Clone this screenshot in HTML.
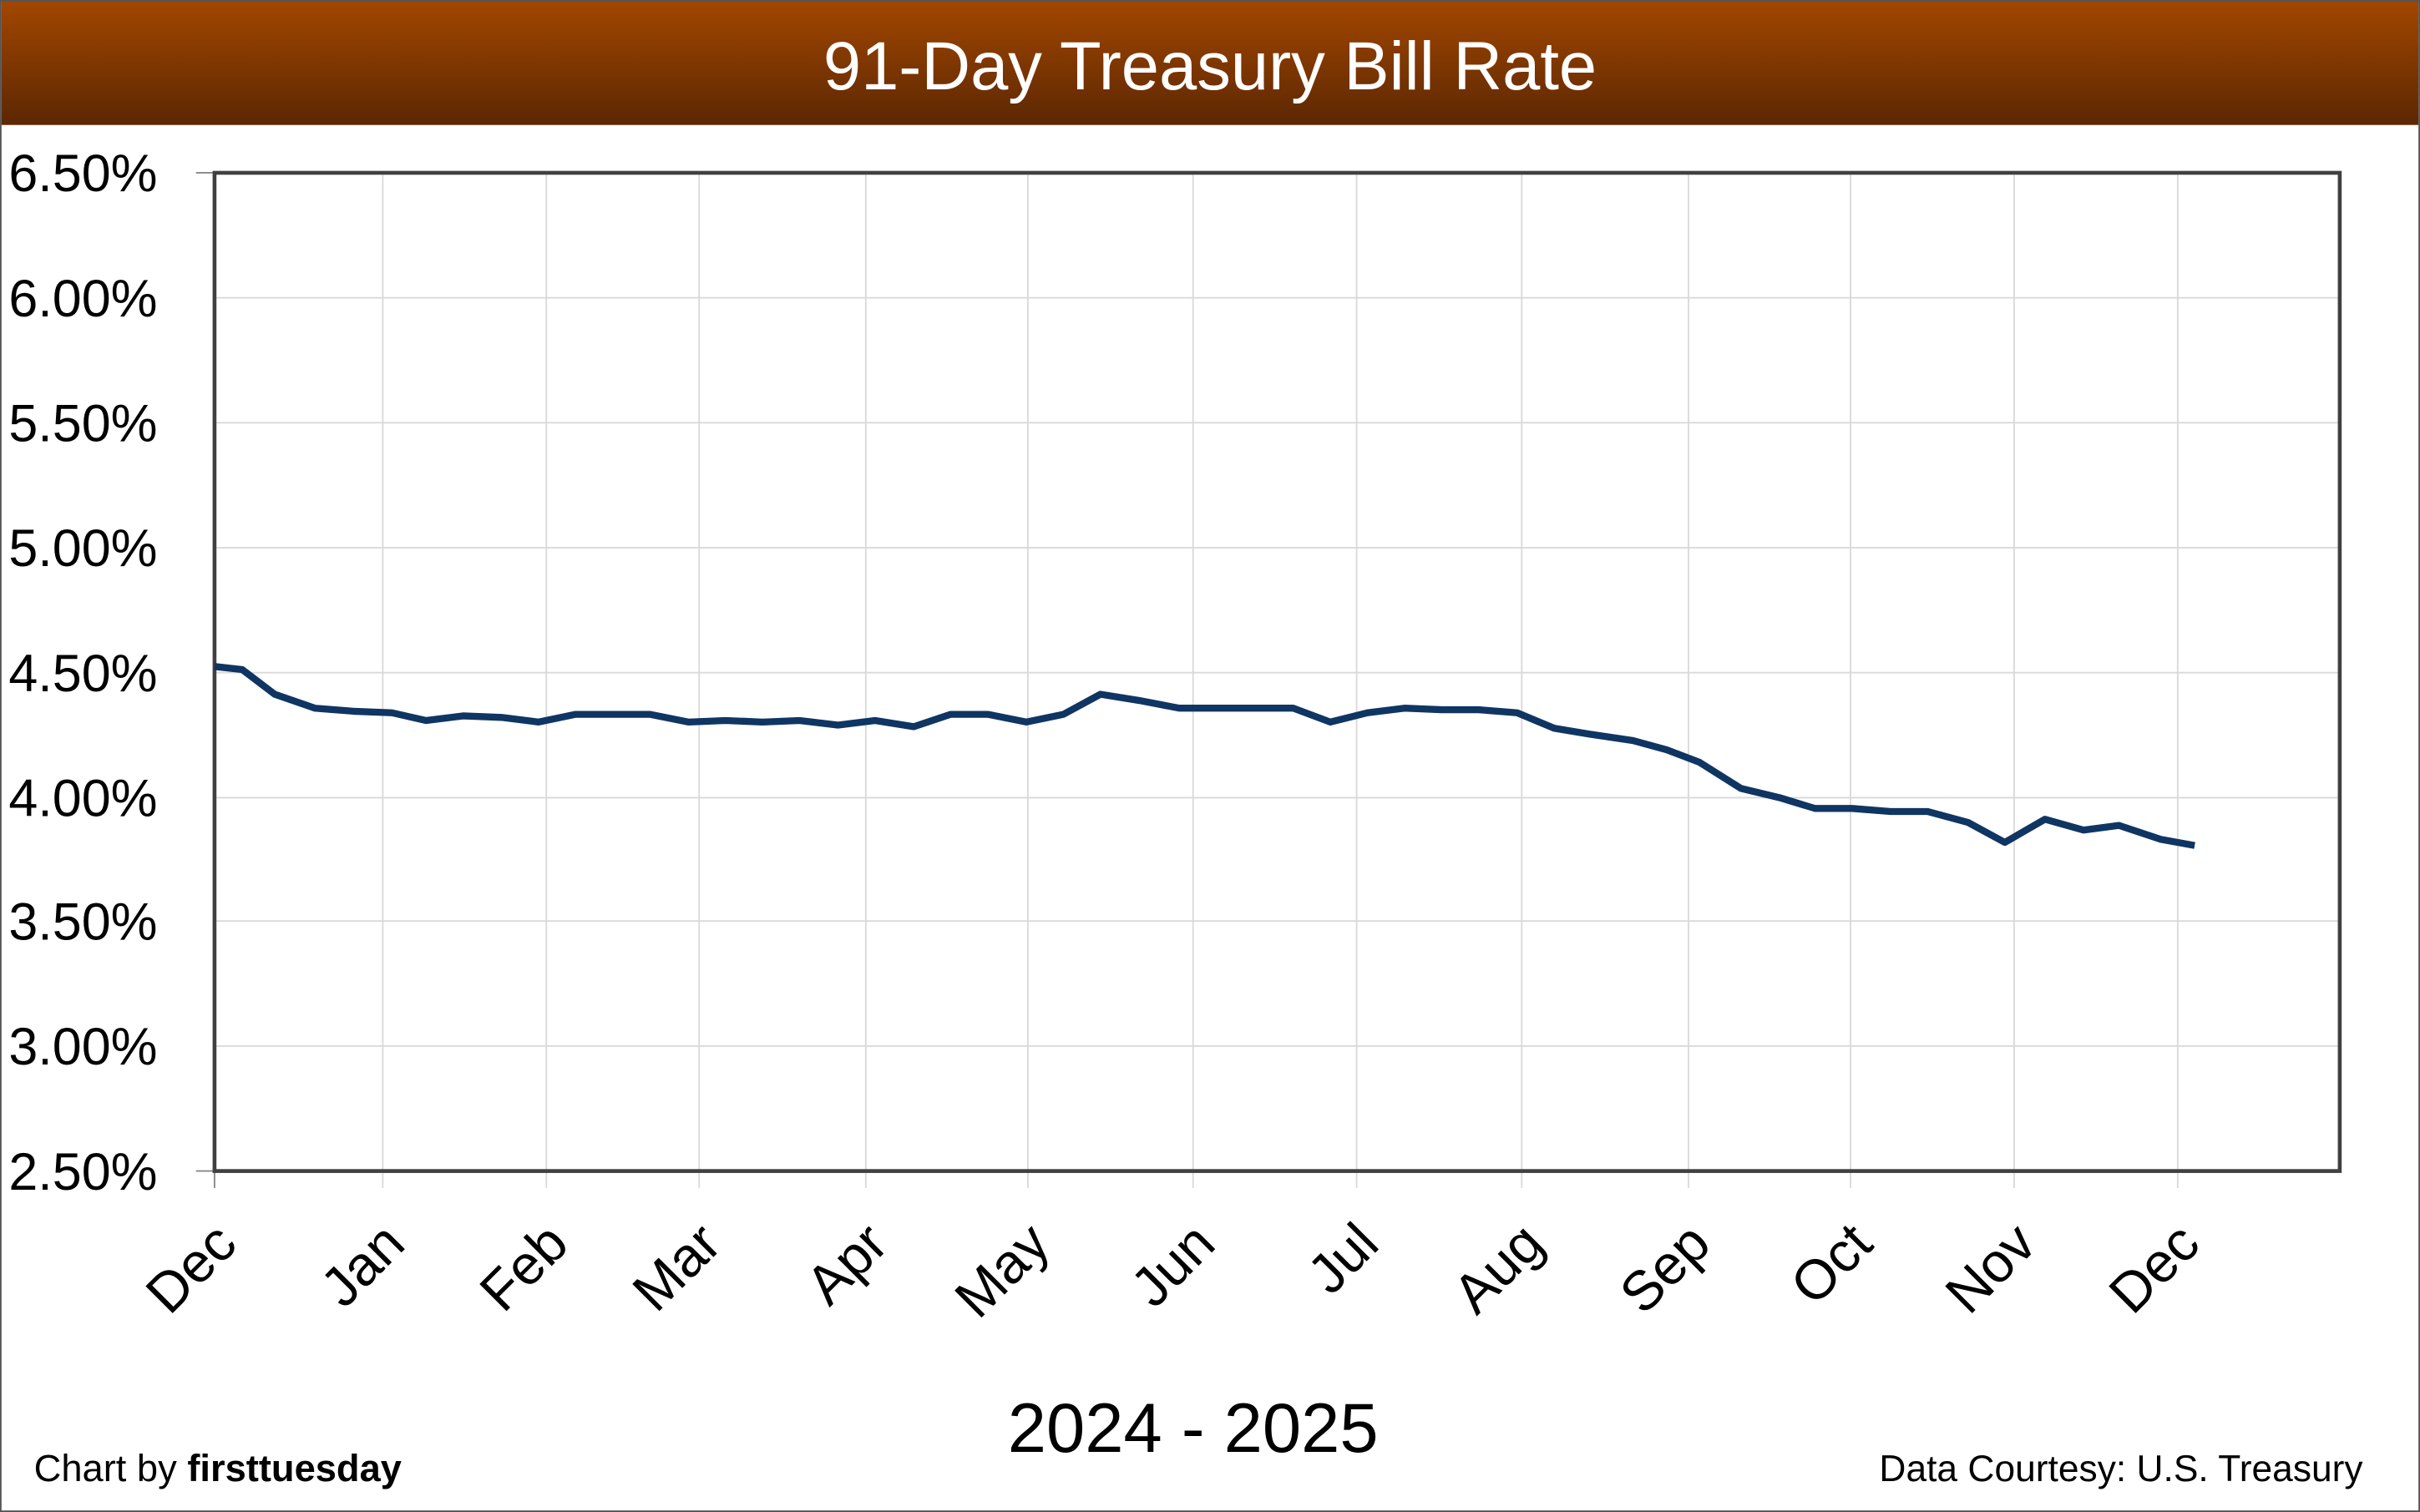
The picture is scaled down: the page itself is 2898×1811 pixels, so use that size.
<!DOCTYPE html>
<html><head><style>html,body{margin:0;padding:0;background:#fff}svg{display:block}</style></head>
<body>
<svg width="2898" height="1811" viewBox="0 0 1568 980" preserveAspectRatio="none" xmlns="http://www.w3.org/2000/svg" font-family="Liberation Sans, sans-serif">
<defs><linearGradient id="g" x1="0" y1="0" x2="0" y2="1"><stop offset="0" stop-color="#a34700"/><stop offset="1" stop-color="#5c2702"/></linearGradient></defs>
<rect x="0" y="0" width="1568" height="980" fill="#fff"/>
<rect x="1" y="0" width="1566" height="81" fill="url(#g)"/>
<text x="784" y="58" font-size="44" fill="#fff" text-anchor="middle">91-Day Treasury Bill Rate</text>
<g stroke="#d9d9d9" stroke-width="1">
<line x1="139" y1="193" x2="1516" y2="193"/><line x1="139" y1="274" x2="1516" y2="274"/><line x1="139" y1="355" x2="1516" y2="355"/><line x1="139" y1="436" x2="1516" y2="436"/><line x1="139" y1="517" x2="1516" y2="517"/><line x1="139" y1="597" x2="1516" y2="597"/><line x1="139" y1="678" x2="1516" y2="678"/>
<line x1="248" y1="112" x2="248" y2="770"/><line x1="354" y1="112" x2="354" y2="770"/><line x1="453" y1="112" x2="453" y2="770"/><line x1="561" y1="112" x2="561" y2="770"/><line x1="666" y1="112" x2="666" y2="770"/><line x1="773" y1="112" x2="773" y2="770"/><line x1="879" y1="112" x2="879" y2="770"/><line x1="986" y1="112" x2="986" y2="770"/><line x1="1094" y1="112" x2="1094" y2="770"/><line x1="1199" y1="112" x2="1199" y2="770"/><line x1="1305" y1="112" x2="1305" y2="770"/><line x1="1411" y1="112" x2="1411" y2="770"/>
</g>
<g stroke="#888" stroke-width="1"><line x1="127" y1="112" x2="139" y2="112"/><line x1="127" y1="759" x2="139" y2="759"/><line x1="139" y1="759" x2="139" y2="770"/></g>
<rect x="139" y="112" width="1377" height="647" fill="none" stroke="#404040" stroke-width="2.5"/>
<polyline fill="none" stroke="#0f3563" stroke-width="4.5" stroke-linejoin="round" points="139,432 157,434 178,450 204,459 229,461 254,462 276,467 300,464 325,465 349,468 373,463 397,463 421,463 446,468 470,467 494,468 518,467 543,470 567,467 592,471 616,463 640,463 665,468 689,463 713,450 738,454 764,459 789,459 813,459 838,459 862,468 886,462 910,459 934,460 958,460 983,462 1007,472 1031,476 1058,480 1080,486 1101,494 1128,511 1153,517 1176,524 1200,524 1225,526 1249,526 1275,533 1299,546 1325,531 1350,538 1373,535 1400,544 1422,548"/>
<g font-size="34" fill="#000" text-anchor="end">
<text x="102" y="124">6.50%</text><text x="102" y="205">6.00%</text><text x="102" y="286">5.50%</text><text x="102" y="367">5.00%</text><text x="102" y="448">4.50%</text><text x="102" y="529">4.00%</text><text x="102" y="609">3.50%</text><text x="102" y="690">3.00%</text><text x="102" y="771">2.50%</text>
</g>
<g font-size="36" fill="#000" text-anchor="end">
<text transform="translate(155,808) rotate(-45)">Dec</text>
<text transform="translate(264,808) rotate(-45)">Jan</text>
<text transform="translate(370,808) rotate(-45)">Feb</text>
<text transform="translate(469,808) rotate(-45)">Mar</text>
<text transform="translate(577,808) rotate(-45)">Apr</text>
<text transform="translate(682,808) rotate(-45)">May</text>
<text transform="translate(789,808) rotate(-45)">Jun</text>
<text transform="translate(895,808) rotate(-45)">Jul</text>
<text transform="translate(1002,808) rotate(-45)">Aug</text>
<text transform="translate(1110,808) rotate(-45)">Sep</text>
<text transform="translate(1215,808) rotate(-45)">Oct</text>
<text transform="translate(1321,808) rotate(-45)">Nov</text>
<text transform="translate(1427,808) rotate(-45)">Dec</text>
</g>
<text x="773" y="941" font-size="45" text-anchor="middle">2024 - 2025</text>
<text x="22" y="960" font-size="24.5">Chart by <tspan font-weight="bold">firsttuesday</tspan></text>
<text x="1531" y="960" font-size="24" text-anchor="end">Data Courtesy: U.S. Treasury</text>
<rect x="0.5" y="0.5" width="1567" height="979" fill="none" stroke="#555" stroke-width="1"/>
</svg>
</body></html>
